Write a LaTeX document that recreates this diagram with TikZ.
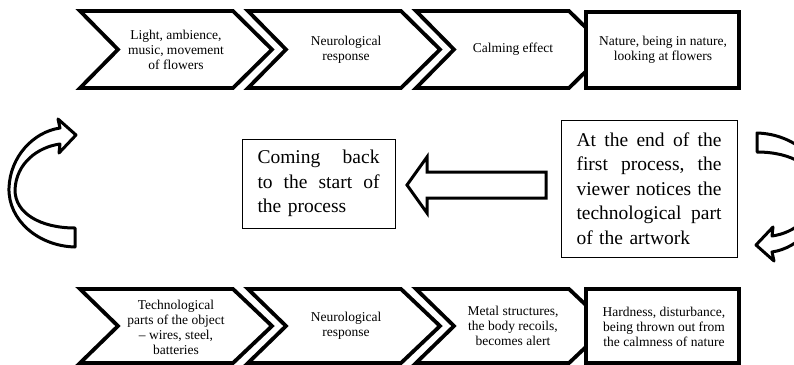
\documentclass[tikz,border=0pt]{standalone}
\usepackage{fontspec}
\setmainfont{Liberation Serif}
\begin{document}
\begin{tikzpicture}[x=1pt,y=-1pt,
  chevline/.style={draw=black,fill=white,line width=3.8pt,line join=miter},
  endbox/.style={draw=black,fill=white,line width=3.4pt,line join=miter},
  ctext/.style={align=center,inner sep=0pt,font=\fontsize{13.5}{15}\selectfont},
  midbox/.style={draw=black,line width=0.9pt,align=left,inner xsep=0pt,font=\fontsize{19.5}{24.5}\selectfont},
  bigarrow/.style={draw=black,fill=white,line width=3pt,line join=miter},
  bentarrow/.style={draw=black,fill=white,line width=3pt,line join=round}]
\useasboundingbox (0,0) rectangle (794,364);
% top row
\foreach \L in {80,248,416} {
  \draw[chevline] (\L,11) -- (\L+153,11) -- (\L+192,49.5) -- (\L+153,88) -- (\L,88) -- (\L+38,49.5) -- cycle;
}
\draw[endbox] (586,12) rectangle (739,88);
\node[ctext] (t1) at (176,49.5) {Light, ambience,\\music, movement\\of flowers};
\node[ctext] (t2) at (346,49.5) {Neurological\\response};
\node[ctext] (t3) at (513,49.5) {Calming effect};
\node[ctext] (t4) at (663,49.5) {Nature, being in nature,\\looking at flowers};
% bottom row
\foreach \L in {80,248,416} {
  \draw[chevline] (\L,289) -- (\L+153,289) -- (\L+192,326) -- (\L+153,363) -- (\L,363) -- (\L+38,326) -- cycle;
}
\draw[endbox] (586,289) rectangle (739,363);
\node[ctext] (b1) at (176,327) {Technological\\parts of the object\\– wires, steel,\\batteries};
\node[ctext] (b2) at (346,326) {Neurological\\response};
\node[ctext] (b3) at (513,326) {Metal structures,\\the body recoils,\\becomes alert};
\node[ctext] (b4) at (664,327) {Hardness, disturbance,\\being thrown out from\\the calmness of nature};
% middle boxes
\node[midbox,text width=122pt,minimum width=153pt,minimum height=89pt] (back) at (318.5,183.5)
  {Coming\hfill back\\to\hfill the\hfill start\hfill of\\the process};
\node[midbox,text width=145pt,minimum width=176pt,minimum height=137pt] (endp) at (649,188.5)
  {At\hfill the\hfill end\hfill of\hfill the\\first\hfill process,\hfill the\\viewer\hfill notices\hfill the\\technological\hfill part\\of the artwork};
% block arrow left
\draw[bigarrow] (546,172) -- (427,172) -- (427,157) -- (407,185) -- (427,213) -- (427,198) -- (546,198) -- cycle;
% curved arrows
\draw[bentarrow] (75,247) .. controls (38,246) and (8,220) .. (9,188)
  .. controls (10,157) and (33,132) .. (60,128) -- (58,119) -- (76,135) -- (59,153) -- (60,144)
  .. controls (38,147) and (16,163) .. (15,190)
  .. controls (15,213) and (40,228) .. (75,228) -- cycle;
\begin{scope}[rotate around={180:(416,190)}]
\draw[bentarrow] (75,247) .. controls (38,246) and (8,220) .. (9,188)
  .. controls (10,157) and (33,132) .. (60,128) -- (58,119) -- (76,135) -- (59,153) -- (60,144)
  .. controls (38,147) and (16,163) .. (15,190)
  .. controls (15,213) and (40,228) .. (75,228) -- cycle;
\end{scope}
\end{tikzpicture}
\end{document}
